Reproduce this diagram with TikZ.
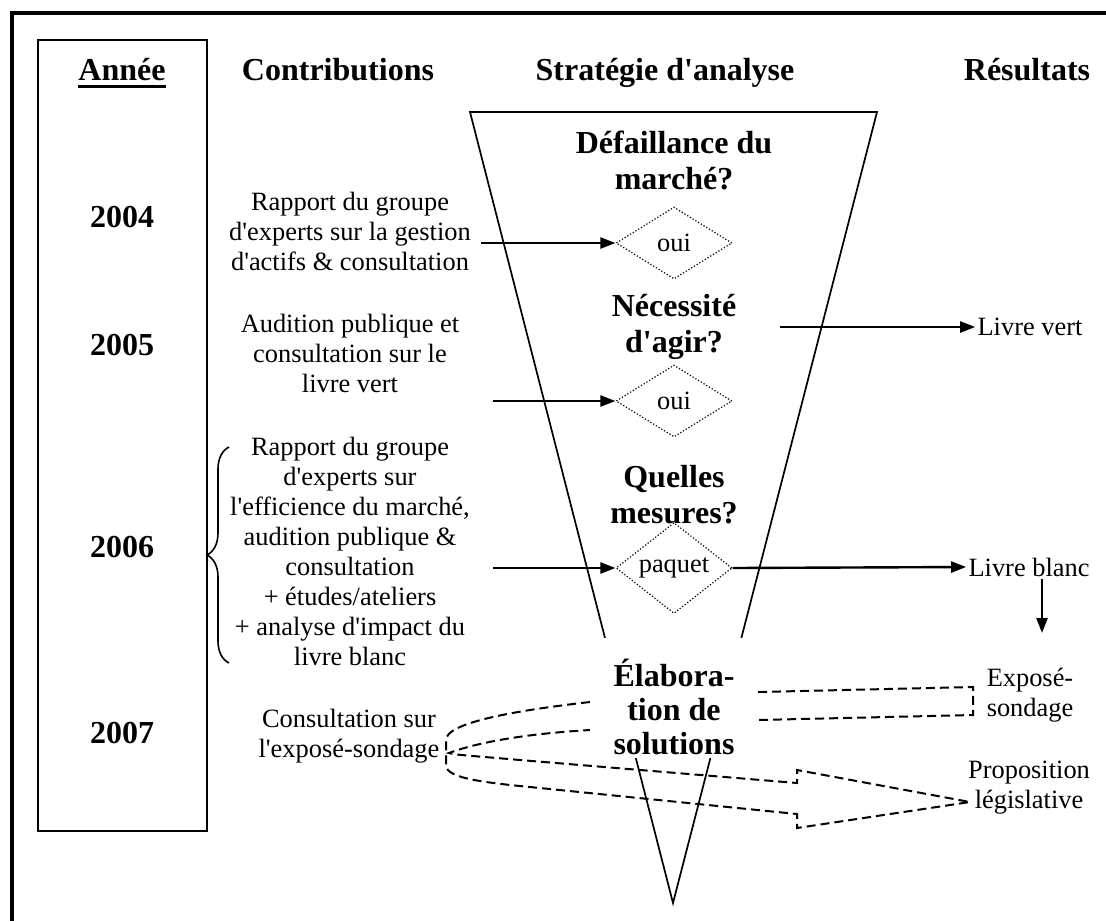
\documentclass[tikz,border=0pt]{standalone}
\usepackage{fontspec}
\setmainfont{Liberation Serif}[Ligatures=TeXOff]
\usetikzlibrary{arrows.meta, positioning, shapes.geometric, decorations.pathreplacing, calc}
\newcommand{\ulbold}[1]{\setbox0\hbox{#1}\rlap{\rule[-4pt]{\wd0}{1.6pt}}\box0}

\begin{document}
\begin{tikzpicture}[x=0.5pt, y=-0.5pt, >={Triangle[length=7.5pt, width=5.5pt]},
    body/.style={font=\fontsize{13.2}{15}\selectfont, align=center, inner sep=1pt},
    head/.style={font=\fontsize{16}{18}\bfseries\selectfont, align=center, inner sep=1pt},
    choice/.style={diamond, draw, line width=0.6pt, dash pattern=on 0.6pt off 1pt, minimum width=58pt, minimum height=36pt, inner sep=0pt, font=\fontsize{13.2}{15}\selectfont},
    arr/.style={->, line width=1.2pt},
    band/.style={line width=1pt, dash pattern=on 4.5pt off 2.5pt}]
    \useasboundingbox (0,0) rectangle (1106,921);

    % Frame and year box
    \draw[line width=1.8pt] (12,921) -- (12,13) -- (1106,13);
    \draw[line width=0.9pt] (38,40) rectangle (207,831);

    % Headings
    \node[head, anchor=base] (annee) at (122,80) {\ulbold{Année}};
    \node[head, anchor=base] (contrib) at (338,80) {Contributions};
    \node[head, anchor=base] (strat) at (665,80) {Stratégie d'analyse};
    \node[head, anchor=base] (result) at (1027,80) {Résultats};

    % Years
    \node[head, anchor=base] (y2004) at (122,227) {2004};
    \node[head, anchor=base] (y2005) at (122,355) {2005};
    \node[head, anchor=base] (y2006) at (122,557) {2006};
    \node[head, anchor=base] (y2007) at (122,743) {2007};

    % Funnel
    \draw[line width=0.85pt] (470,112) -- (877,112) -- (673,903) -- cycle;

    % Questions and answers
    \node[head] (q1) at (674,160) {Défaillance du\\marché?};
    \node[choice] (d1) at (674,243) {oui};
    \node[head] (q2) at (674,327) {Nécessité\\d'agir?};
    \node[choice] (d2) at (674,401) {oui};
    \node[head] (q3) at (674,495) {Quelles\\mesures?};
    \node[choice] (d3) at (674,568) {paquet};

    % Contributions
    \node[body] (c2004) at (350,231) {Rapport du groupe\\d'experts sur la gestion\\d'actifs \& consultation};
    \node[body] (c2005) at (350,353) {Audition publique et\\consultation sur le\\livre vert};
    \node[body] (c2006) at (350,551) {Rapport du groupe\\d'experts sur\\l'efficience du marché,\\audition publique \&\\consultation\\+ études/ateliers\\+ analyse d'impact du\\livre blanc};
    \node[body] (c2007) at (349,736) {Consultation sur\\l'exposé-sondage};
    \draw[decorate, decoration={brace, amplitude=11pt}, line width=0.8pt] (229,663) -- (229,447);

    % Results
    \node[body] (lvert) at (1030,327) {Livre vert};
    \node[body] (lblanc) at (1029,567) {Livre blanc};
    \node[body] (expose) at (1030,695) {Exposé-\\sondage};
    \node[body] (prop) at (1029,788) {Proposition\\législative};

    % Arrows
    \coordinate (from1) at (481,243);
    \coordinate (from2) at (493,401);
    \coordinate (from3) at (493,568);
    \coordinate (from4) at (780,327);
    \coordinate (down) at (1042,633);
    \draw[arr] (from1) -- (d1.west);
    \draw[arr] (from2) -- (d2.west);
    \draw[arr] (from3) -- (d3.west);
    \draw[arr] (from4) -- (lvert.west);
    \draw[arr] (d3.east) -- (lblanc.west);
    \draw[arr] (lblanc.south -| down) -- (down);

    % Dashed block arrows
    \draw[band] (758,692) -- (973,687) -- (973,715) -- (758,720);
    \draw[band] (590,702) .. controls (520,710) and (446,722) .. (446,740) -- (446,765)
        .. controls (446,776) and (470,781) .. (520,786) -- (797,814) -- (797,828)
        -- (970,802) -- (797,770) -- (797,783) -- (520,760)
        .. controls (475,756) and (455,755) .. (449,753)
        .. controls (465,747) and (505,735) .. (590,730);

    % Last stage, over the funnel
    \fill[white] (590,638) rectangle (758,758);
    \node[head, font=\fontsize{16}{17}\bfseries\selectfont] (q4) at (674,707) {Élabora-\\tion de\\solutions};
\end{tikzpicture}
\end{document}
